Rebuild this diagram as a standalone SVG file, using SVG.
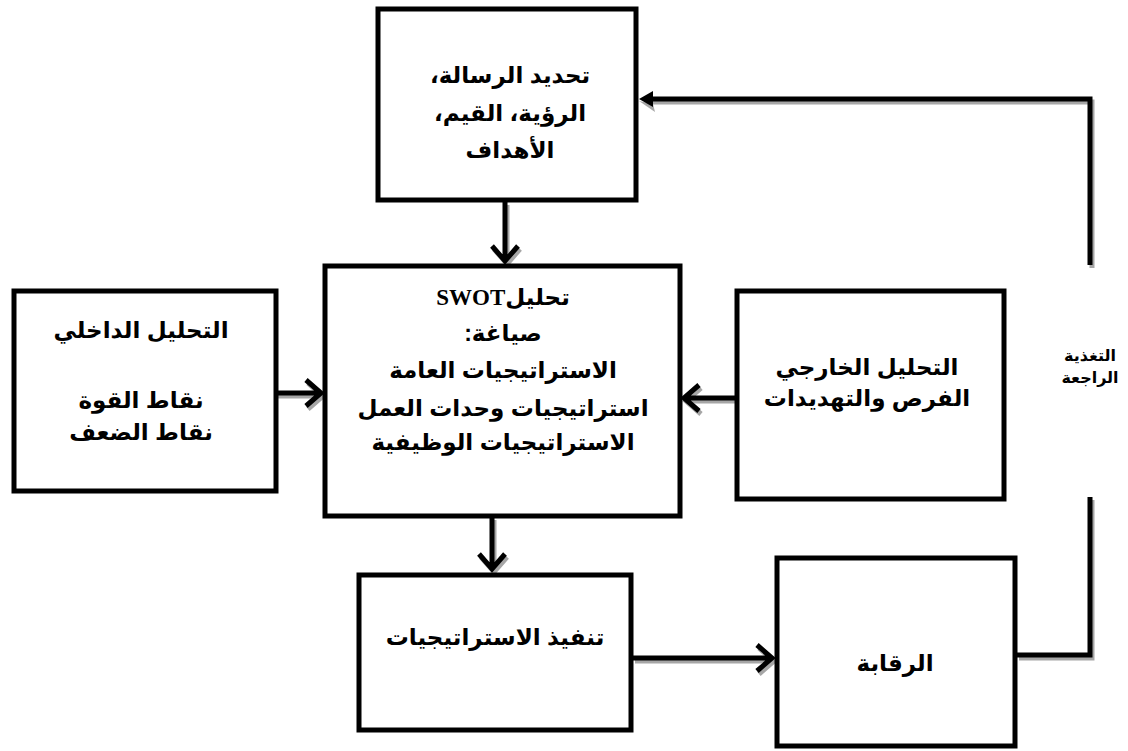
<svg xmlns="http://www.w3.org/2000/svg" width="1128" height="751" viewBox="0 0 1128 751">
<style>
.box{fill:#fff;stroke:#000;stroke-width:5}
.t{font-family:"Liberation Sans",Arial,"DejaVu Sans",sans-serif;font-weight:bold;font-size:23px;fill:#000;text-anchor:middle;direction:rtl}
.s{font-size:16px}
.ln{fill:none;stroke:#000;stroke-width:5;stroke-linecap:butt;stroke-linejoin:miter}
.sh{fill:none;stroke:#a6a6a6;stroke-width:5;stroke-linejoin:miter}
.ser{font-family:"Liberation Serif","Times New Roman",serif}
</style>
<rect width="1128" height="751" fill="#fff"/>
<g id="connectors">
  <!-- shadows -->
  <g transform="translate(2,3)">
    <path class="sh" d="M505 202V261M492 246L505 261L518 246"/>
    <path class="sh" d="M276 393H321M306 380L321 393L306 406"/>
    <path class="sh" d="M737 398H684M699 385L684 398L699 411"/>
    <path class="sh" d="M492 517V569M479 554L492 569L505 554"/>
    <path class="sh" d="M633 658H772M757 645L772 658L757 671"/>
    <path class="sh" d="M1017 655H1090V497M1090 265V99H650"/>
  </g>
  <path class="ln" d="M505 202V261M492 246L505 261L518 246"/>
  <path class="ln" d="M276 393H321M306 380L321 393L306 406"/>
  <path class="ln" d="M737 398H684M699 385L684 398L699 411"/>
  <path class="ln" d="M492 517V569M479 554L492 569L505 554"/>
  <path class="ln" d="M633 658H772M757 645L772 658L757 671"/>
  <path class="ln" d="M1017 655H1090V497M1090 265V99H650"/>
  <path d="M653 104L655 112L639 101Z" fill="#a6a6a6"/>
  <path d="M639 99L653 91L653 107Z" fill="#000"/>
</g>
<g id="n-mission">
  <rect class="box" x="378" y="9" width="258" height="191"/>
  <text class="t" x="510" y="83">تحديد الرسالة،</text>
  <text class="t" x="510" y="121">الرؤية، القيم،</text>
  <text class="t" x="510" y="158">الأهداف</text>
</g>
<g id="n-swot">
  <rect class="box" x="325" y="266" width="355" height="250"/>
  <text class="t" x="503" y="305">تحليل<tspan class="ser">SWOT</tspan></text>
  <text class="t" x="503" y="341">صياغة:</text>
  <text class="t" x="503" y="378">الاستراتيجيات العامة</text>
  <text class="t" x="503" y="416">استراتيجيات وحدات العمل</text>
  <text class="t" x="503" y="450">الاستراتيجيات الوظيفية</text>
</g>
<g id="n-internal">
  <rect class="box" x="14" y="291" width="262" height="200"/>
  <text class="t" x="141" y="338">التحليل الداخلي</text>
  <text class="t" x="141" y="408">نقاط القوة</text>
  <text class="t" x="141" y="440">نقاط الضعف</text>
</g>
<g id="n-external">
  <rect class="box" x="737" y="291" width="267" height="208"/>
  <text class="t" x="867" y="375">التحليل الخارجي</text>
  <text class="t" x="867" y="406">الفرص والتهديدات</text>
</g>
<g id="n-implement">
  <rect class="box" x="359" y="575" width="272" height="155"/>
  <text class="t" x="495" y="645">تنفيذ الاستراتيجيات</text>
</g>
<g id="n-control">
  <rect class="box" x="777" y="558" width="238" height="188"/>
  <text class="t" x="895" y="671">الرقابة</text>
</g>
<g id="n-feedback">
  <text class="t s" x="1090" y="361">التغذية</text>
  <text class="t s" x="1090" y="383">الراجعة</text>
</g>
</svg>
